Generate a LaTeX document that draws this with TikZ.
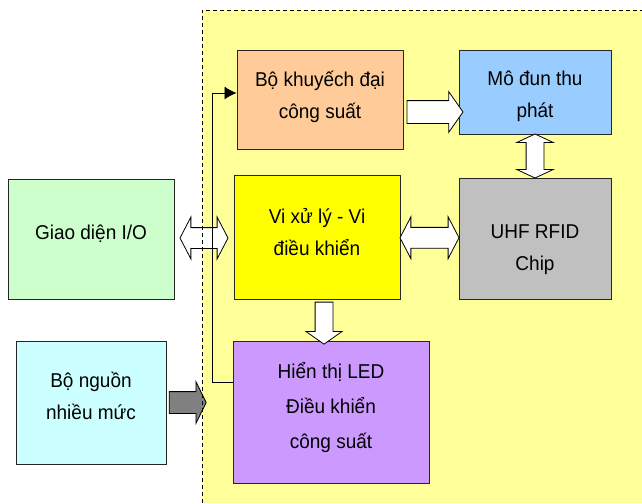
\documentclass[tikz,border=0pt]{standalone}
\usepackage{fontspec}
\setmainfont{Liberation Sans}[FakeStretch=0.95]
\usetikzlibrary{shapes.arrows,calc,arrows.meta}
\definecolor{bgyellow}{HTML}{FFFF99}
\definecolor{ampclr}{HTML}{FFCC99}
\definecolor{modclr}{HTML}{99CCFF}
\definecolor{uhfclr}{HTML}{C0C0C0}
\definecolor{cpuclr}{HTML}{FFFF00}
\definecolor{ledclr}{HTML}{CC99FF}
\definecolor{ioclr}{HTML}{CCFFCC}
\definecolor{psuclr}{HTML}{CCFFFF}
\definecolor{psuarrow}{HTML}{808080}

\begin{document}
\begin{tikzpicture}[x=1pt, y=-1pt, font=\fontsize{20}{32}\selectfont,
    box/.style={draw=black!85, line width=1pt, align=center, inner sep=0pt},
    dbl/.style={double arrow, draw, fill=white, line width=0.8pt, inner xsep=0pt, double arrow tip angle=125},
    sgl/.style={single arrow, draw, fill=white, line width=0.8pt, inner xsep=0pt}]
  \useasboundingbox (0,0) rectangle (642,503);
  % vung mau vang
  \fill[bgyellow] (202,10) rectangle (642,503);

  \node[box, fill=ioclr, minimum width=166pt, minimum height=120pt] (io) at (91,239)
    {Giao diện I/O\rule[-14pt]{0pt}{0pt}};
  \node[box, fill=psuclr, minimum width=150pt, minimum height=123pt] (psu) at (91,402.5)
    {Bộ nguồn\\nhiều mức\rule[-13pt]{0pt}{0pt}};
  \node[box, fill=ampclr, minimum width=166pt, minimum height=98pt] (amp) at (320,100)
    {Bộ khuyếch đại\\công suất\rule[-11pt]{0pt}{0pt}};
  \node[box, fill=modclr, minimum width=152pt, minimum height=83pt] (mod) at (535,92.5)
    {\rule{0pt}{23pt}Mô đun thu\\phát};
  \node[box, fill=cpuclr, minimum width=166pt, minimum height=124pt] (cpu) at (317,237)
    {Vi xử lý - Vi\\điều khiển\rule[-10pt]{0pt}{0pt}};
  \node[box, fill=uhfclr, minimum width=152pt, minimum height=121pt] (uhf) at (535,238.5)
    {\rule{0pt}{37pt}UHF RFID\\Chip};
  \node[box, fill=ledclr, minimum width=196pt, minimum height=142pt,
        font=\fontsize{20}{35}\selectfont] (led) at (331,412)
    {Hiển thị LED\\Điều khiển\\công suất\rule[-14pt]{0pt}{0pt}};

  % mui ten khoi
  \node[sgl, inner ysep=11pt, minimum height=56pt, single arrow head extend=9pt,
        single arrow tip angle=110, yshift=-12pt] (a1) at ($(amp.east)!.5!(amp.east -| mod.west)$) {};
  \node[dbl, inner ysep=8.5pt, minimum height=44pt, double arrow head extend=9.5pt,
        double arrow tip angle=130, rotate=90] (a2) at ($(mod.south)!.5!(uhf.north)$) {};
  \node[dbl, inner ysep=10pt, minimum height=59pt, double arrow head extend=10.5pt] (a3) at ($(cpu.east)!.5!(uhf.west)$) {};
  \node[dbl, inner ysep=10pt, minimum height=48pt, double arrow head extend=10.5pt] (a4) at ($(io.east)!.5!(cpu.west)$) {};
  \node[sgl, inner ysep=8.5pt, minimum height=42pt, single arrow head extend=9pt,
        single arrow tip angle=110, rotate=-90] (a5) at ($(cpu.south)!.5!(led.north)$) {};
  \node[sgl, fill=psuarrow, inner ysep=10.5pt, minimum height=37pt, single arrow head extend=10pt,
        single arrow tip angle=128, xshift=18.5pt] (a6) at (psu.east) {};

  \draw[dash pattern=on 4pt off 3pt, line width=0.8pt] (202,503) -- (202,10) -- (642,10);
  \draw[line width=0.8pt, -{Latex[length=12pt,width=13pt]}]
    ([yshift=30pt]led.west) -- ++(-20,0) |- ([yshift=7pt]amp.west);
\end{tikzpicture}
\end{document}
